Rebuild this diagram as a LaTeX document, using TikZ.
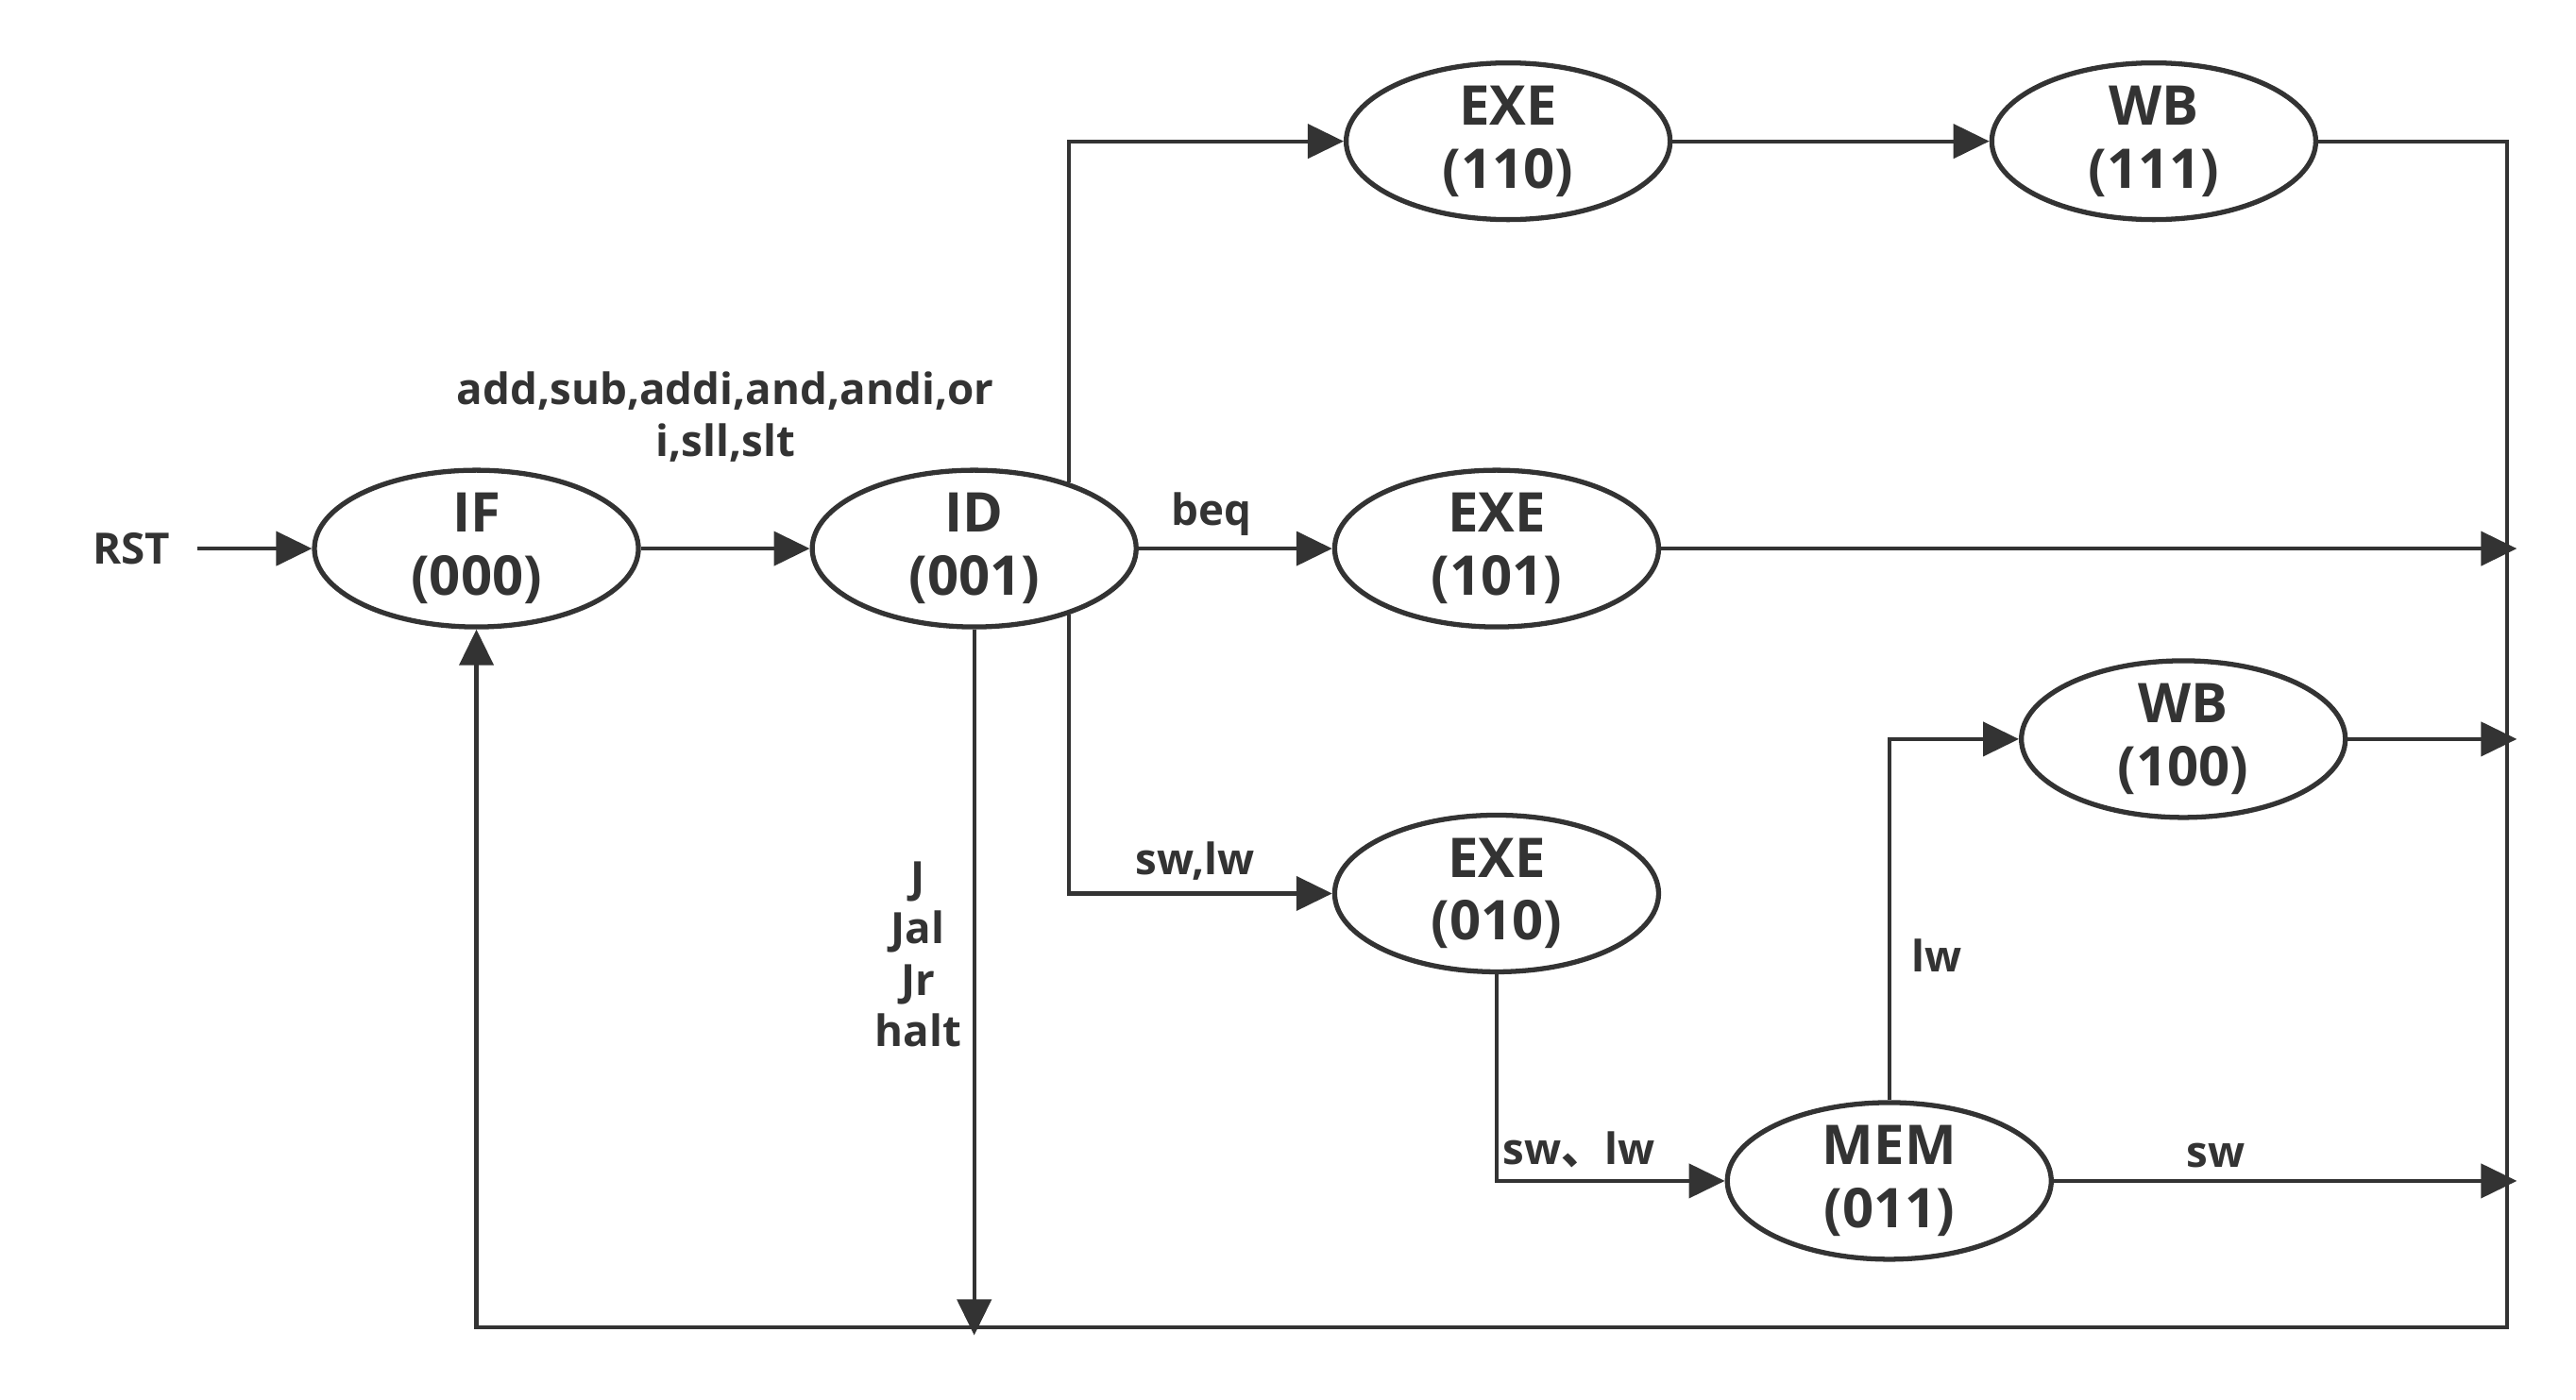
\documentclass[tikz,border=0pt]{standalone}
\usepackage{fontspec}
\setmainfont{Open Sans}
\newfontfamily\cjk{Noto Sans CJK SC}
\usepackage{tikz}
\usetikzlibrary{shapes.geometric, arrows.meta, positioning}
\definecolor{ink}{HTML}{333333}

\begin{document}
\begin{tikzpicture}[
    x=0.0174cm, y=-0.0174cm,
    state/.style={ellipse, draw=ink, line width=1.5pt, fill=white,
                  minimum width=3.43cm, minimum height=1.39cm, inner sep=0pt,
                  align=center, text=ink, font=\bfseries\fontsize{16.5}{19}\selectfont},
    lbl/.style={text=ink, font=\bfseries\fontsize{13}{15.5}\selectfont, align=center},
    arrow/.style={-{Triangle[length=0.38cm, width=0.36cm]}, draw=ink, line width=1.2pt},
    line/.style={draw=ink, line width=1.2pt}
]
\path[use as bounding box, fill=white] (0,0) rectangle (1568,852);

% States
\node[state] (if)     at (290,334)  {IF\\(000)};
\node[state] (id)     at (593,334)  {ID\\(001)};
\node[state] (exe110) at (918,86)   {EXE\\(110)};
\node[state] (wb111)  at (1311,86)  {WB\\(111)};
\node[state] (exe101) at (911,334)  {EXE\\(101)};
\node[state] (wb100)  at (1329,450) {WB\\(100)};
\node[state] (exe010) at (911,544)  {EXE\\(010)};
\node[state] (mem)    at (1150,719) {MEM\\(011)};

% Reset input
\node[lbl, inner sep=8pt] (rst) at (80,334) {RST};

% Helper points
\coordinate (bus)  at (1532,0);
\coordinate (loop) at (1526,808);
\coordinate (jend) at (593,813);

% Fetch / decode
\draw[arrow] (rst) -- (if);
\draw[arrow] (if) -- node[lbl, above=0.78cm]{add,sub,addi,and,andi,or\\i,sll,slt} (id);

% Branches from ID
\draw[arrow] (id.35) |- (exe110);
\draw[arrow] (id) -- node[lbl, above, xshift=-0.25cm]{beq} (exe101);
\draw[arrow] (id.-35) |- node[lbl, above, pos=0.74]{sw,lw} (exe010);
\draw[arrow] (id) -- node[lbl, left, pos=0.46]{J\\Jal\\Jr\\halt} (jend);

% R-type path
\draw[arrow] (exe110) -- (wb111);

% Memory path
\draw[arrow] (exe010) |- node[lbl, above, pos=0.68]{sw{\cjk 、}lw} (mem);
\draw[arrow] (mem) |- node[lbl, right, pos=0.2, xshift=0.1cm]{lw} (wb100);

% Back to IF
\draw[arrow] (exe101) -- (exe101 -| bus);
\draw[arrow] (wb100) -- (wb100 -| bus);
\draw[arrow] (mem) -- node[lbl, above, pos=0.35]{sw} (mem -| bus);
\draw[arrow] (wb111) -| (loop) -| (if);

\end{tikzpicture}
\end{document}
